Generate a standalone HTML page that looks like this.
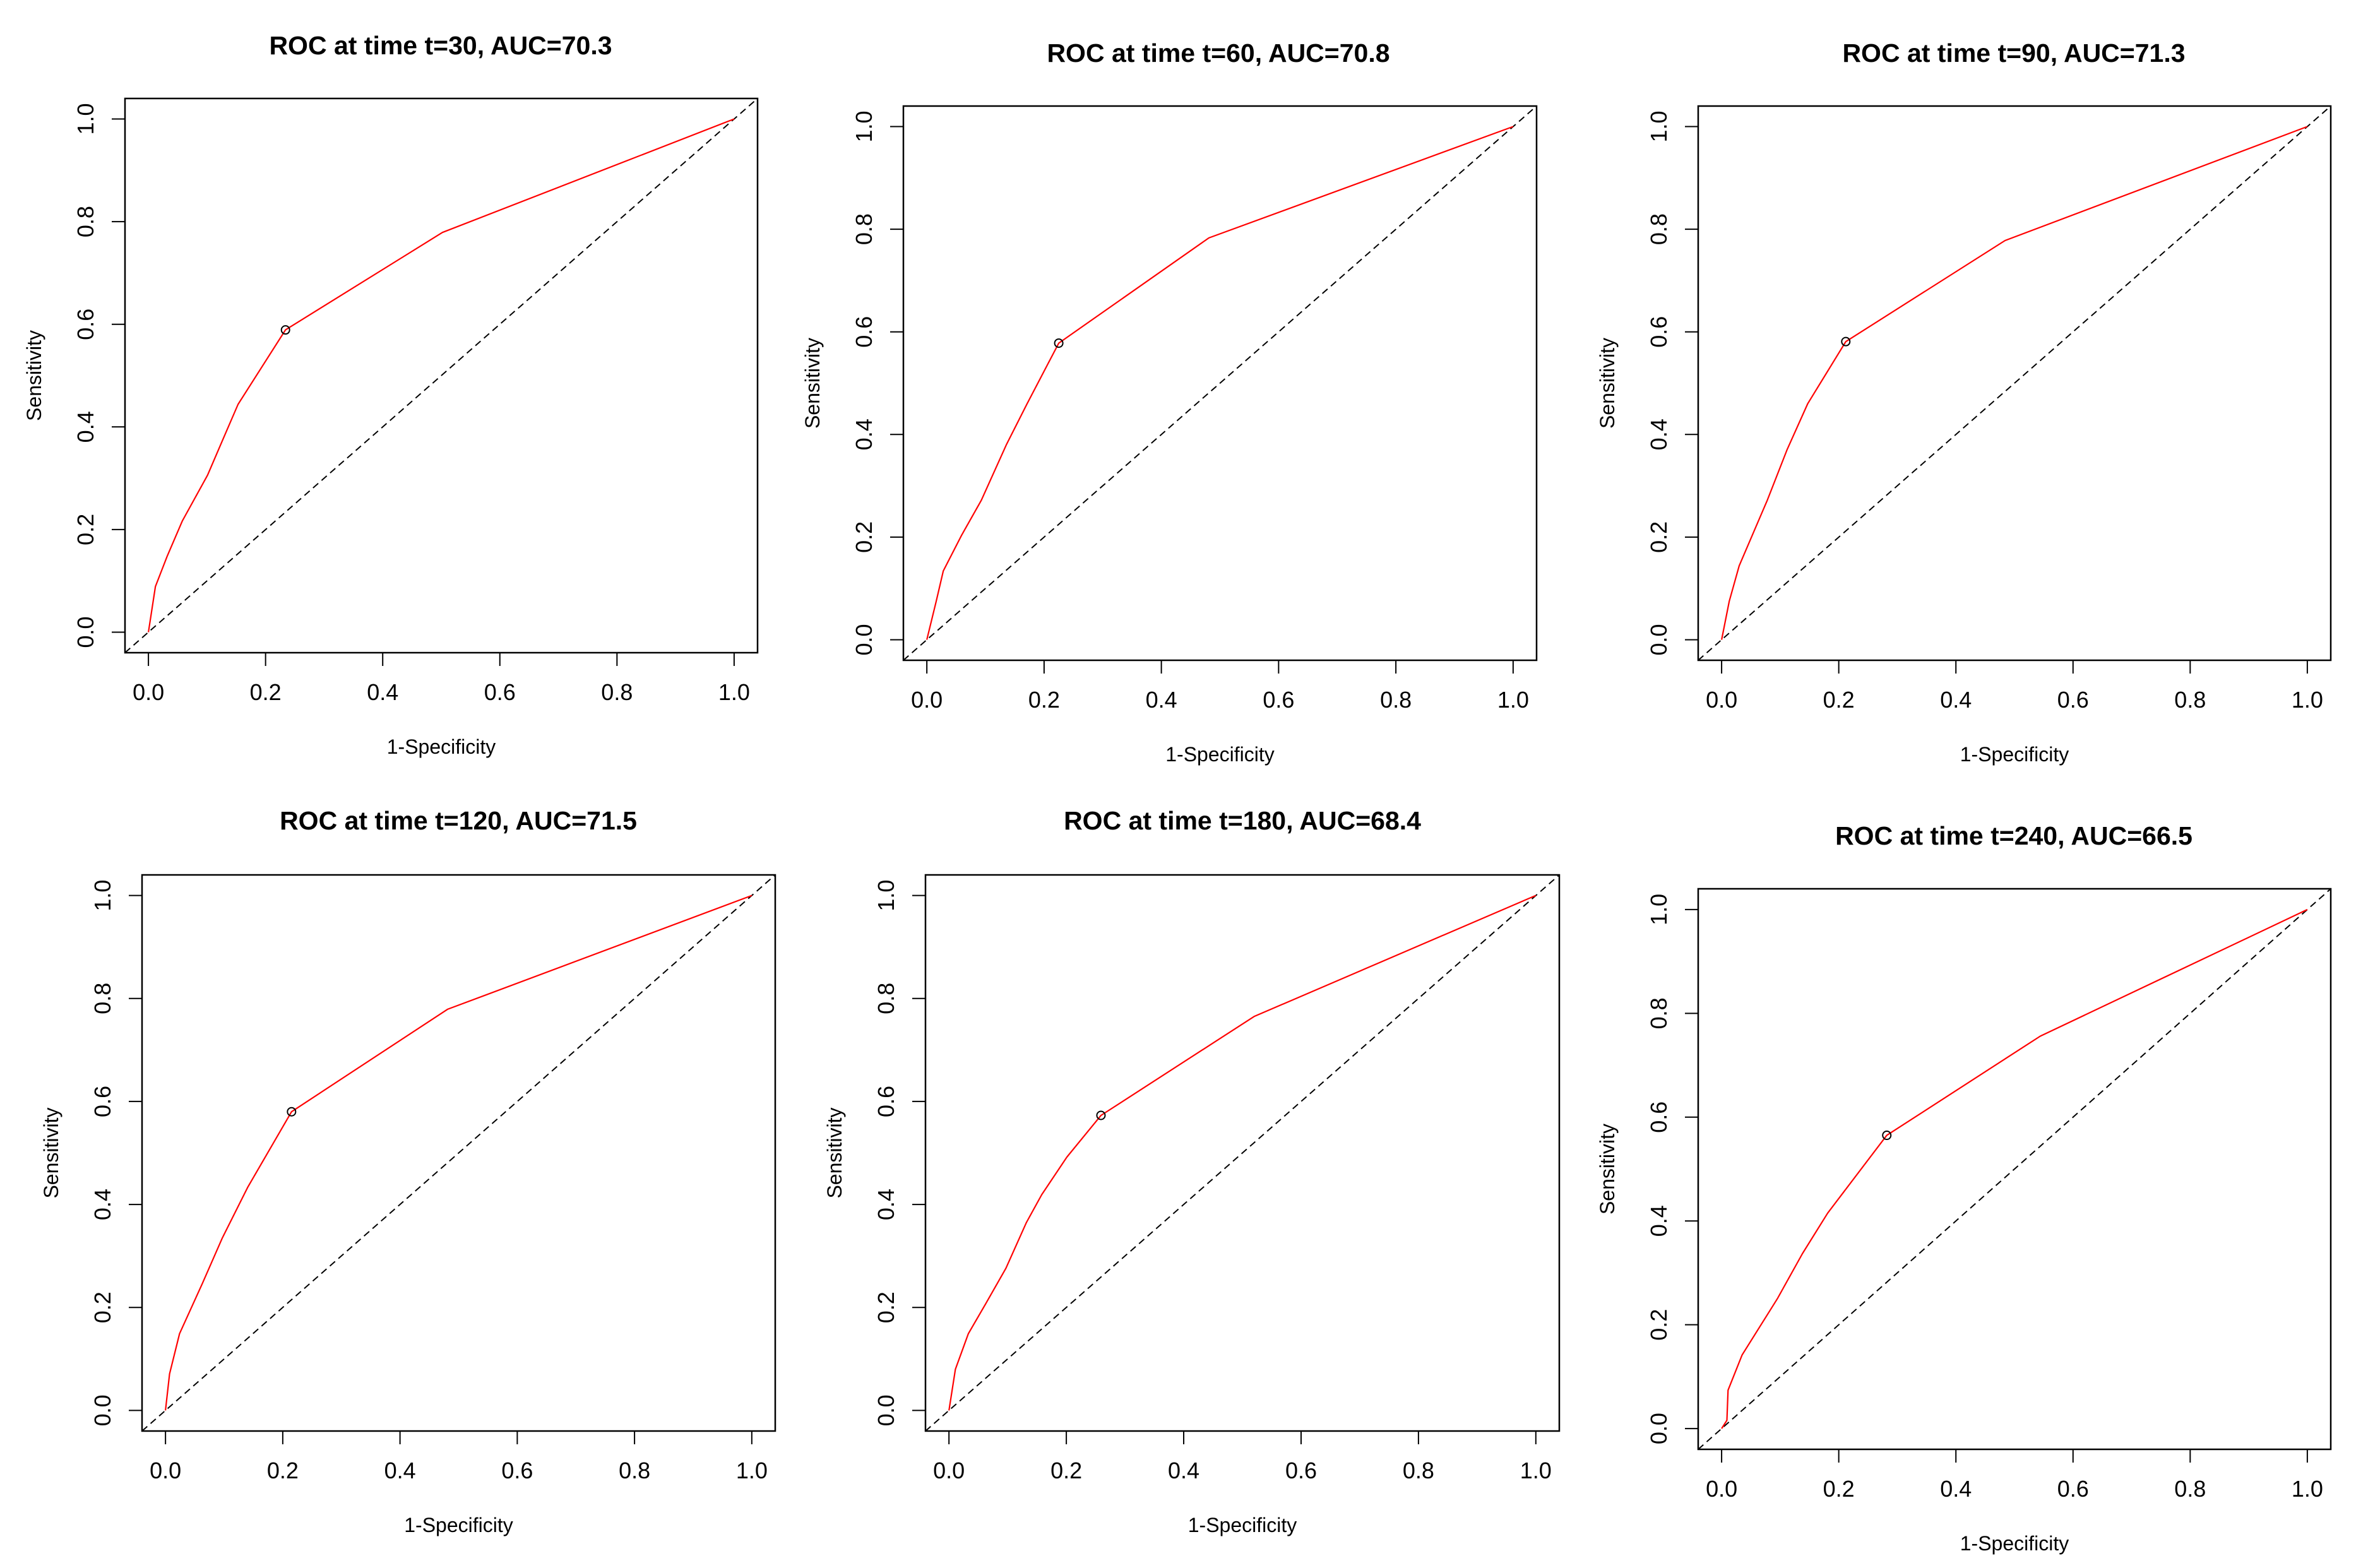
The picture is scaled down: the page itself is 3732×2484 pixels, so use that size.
<!DOCTYPE html>
<html><head><meta charset="utf-8"><title>ROC curves</title>
<style>
html,body{margin:0;padding:0;background:#fff;}
svg{display:block;font-family:"Liberation Sans",Arial,sans-serif;}
</style></head>
<body>
<svg id="chart" width="3732" height="2484" viewBox="0 0 3732 2484" xmlns="http://www.w3.org/2000/svg"></svg>
<script>
// ---- data ----
const panelTitles = ["ROC at time t=30, AUC=70.3","ROC at time t=60, AUC=70.8","ROC at time t=90, AUC=71.3","ROC at time t=120, AUC=71.5","ROC at time t=180, AUC=68.4","ROC at time t=240, AUC=66.5"];
const fpr1 = [0,0.012,0.032,0.058,0.101,0.127,0.153,0.234,0.502,1];
const tpr1 = [0,0.089,0.148,0.217,0.306,0.375,0.444,0.589,0.779,1];
const fpr2 = [0,0.016,0.028,0.059,0.093,0.136,0.171,0.225,0.481,1];
const tpr2 = [0,0.075,0.134,0.203,0.272,0.381,0.46,0.578,0.783,1];
const fpr3 = [0,0.013,0.030,0.078,0.112,0.147,0.212,0.484,1];
const tpr3 = [0,0.075,0.144,0.272,0.371,0.46,0.581,0.778,1];
const fpr4 = [0,0.007,0.024,0.063,0.097,0.14,0.215,0.481,1];
const tpr4 = [0,0.071,0.149,0.247,0.335,0.433,0.58,0.779,1];
const fpr5 = [0,0.011,0.033,0.063,0.097,0.132,0.158,0.201,0.259,0.52,1];
const tpr5 = [0,0.08,0.149,0.208,0.276,0.365,0.419,0.492,0.573,0.765,1];
const fpr6 = [0,0.009,0.011,0.035,0.095,0.138,0.181,0.282,0.544,1];
const tpr6 = [0,0.016,0.074,0.142,0.25,0.337,0.415,0.565,0.756,1];
const cutoffX = [0.234,0.225,0.212,0.215,0.259,0.282];
const cutoffY = [0.589,0.578,0.581,0.58,0.573,0.565];
const tickValues = [0,0.2,0.4,0.6,0.8,1.0];
const tickLabels = ["0.0","0.2","0.4","0.6","0.8","1.0"];

// ---- layout ----
const fprs=[fpr1,fpr2,fpr3,fpr4,fpr5,fpr6];
const tprs=[tpr1,tpr2,tpr3,tpr4,tpr5,tpr6];
const boxes=[
 {l:198,t:156,r:1200,b:1034,tx:698,ty:72},
 {l:1431,t:168,r:2434,b:1046,tx:1930,ty:84},
 {l:2690,t:168,r:3692,b:1046,tx:3190,ty:84},
 {l:225,t:1386,r:1228,b:2267,tx:726,ty:1300},
 {l:1466,t:1386,r:2470,b:2267,tx:1968,ty:1300},
 {l:2690,t:1408,r:3692,b:2296,tx:3190,ty:1324}
];
const NS="http://www.w3.org/2000/svg";
const svg=document.getElementById('chart');
function mk(tag,attrs,parent){const e=document.createElementNS(NS,tag);for(const k in attrs)e.setAttribute(k,attrs[k]);(parent||svg).appendChild(e);return e;}

boxes.forEach((B,i)=>{
  const g=mk('g',{});
  
  
  const xs=v=>B.l+(v+0.04)/1.08*(B.r-B.l);
  const ys=v=>B.b-(v+0.04)/1.08*(B.b-B.t);
  const tt=mk('text',{x:B.tx,y:B.ty+14,'text-anchor':'middle','font-size':41,'font-weight':'bold',fill:'#000'},g);
  tt.textContent=panelTitles[i];
  
  
  const bx=mk('rect',{x:B.l,y:B.t,width:B.r-B.l,height:B.b-B.t,fill:'none',stroke:'#000','stroke-width':2.5},g);
  
  
  const xa=mk('g',{},g);
  
  
  mk('line',{x1:xs(0),x2:xs(1),y1:B.b,y2:B.b,stroke:'#000','stroke-width':2},xa);
  tickValues.forEach((v,k)=>{
    mk('line',{x1:xs(v),x2:xs(v),y1:B.b,y2:B.b+21,stroke:'#000','stroke-width':2},xa);
    const t=mk('text',{x:xs(v),y:B.b+75,'text-anchor':'middle','font-size':36,fill:'#000'},xa);
    t.textContent=tickLabels[k];
    
    
  });
  const ya=mk('g',{},g);
  
  
  tickValues.forEach((v,k)=>{
    mk('line',{x1:B.l,x2:B.l-21,y1:ys(v),y2:ys(v),stroke:'#000','stroke-width':2},ya);
    const t=mk('text',{x:B.l-50,y:ys(v),'text-anchor':'middle','font-size':36,fill:'#000',transform:`rotate(-90 ${B.l-50} ${ys(v)})`},ya);
    t.textContent=tickLabels[k];
    
    
  });
  const xl=mk('text',{x:(B.l+B.r)/2,y:B.b+160,'text-anchor':'middle','font-size':32,fill:'#000'},g);
  xl.textContent='1-Specificity';
  
  
  const yx=B.l-133, yy=(B.t+B.b)/2;
  const yl=mk('text',{x:yx,y:yy,'text-anchor':'middle','font-size':32,fill:'#000',transform:`rotate(-90 ${yx} ${yy})`},g);
  yl.textContent='Sensitivity';
  
  
  const d=mk('line',{x1:xs(-0.04),y1:ys(-0.04),x2:xs(1.04),y2:ys(1.04),stroke:'#000','stroke-width':2,'stroke-dasharray':'11 7'},g);
  
  
  const pts=fprs[i].map((x,k)=>xs(x).toFixed(1)+','+ys(tprs[i][k]).toFixed(1)).join(' ');
  const c=mk('polyline',{points:pts,fill:'none',stroke:'#ff0000','stroke-width':2.2,'stroke-linejoin':'round'},g);
  
  
  const m=mk('circle',{cx:xs(cutoffX[i]),cy:ys(cutoffY[i]),r:6.5,fill:'none',stroke:'#000','stroke-width':2},g);
  
  
});
</script>
</body></html>
